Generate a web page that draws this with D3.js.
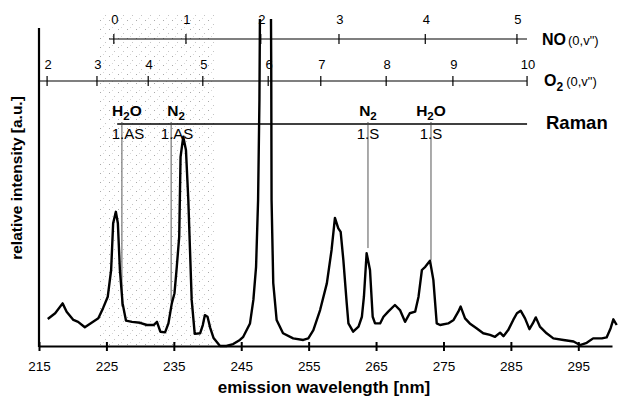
<!DOCTYPE html>
<html>
<head>
<meta charset="utf-8">
<script src="https://cdn.jsdelivr.net/npm/d3@7"></script>
<style>
  body { margin: 0; background: #fff; }
  svg { display: block; font-family: "Liberation Sans", Arial, sans-serif; }
</style>
</head>
<body>
<svg id="chart"></svg>
<script>
// spectrum (wavelength in nm, intensity in a.u.)
const wavelength = [216.3, 217.4, 218.5, 219.1, 220.1, 220.8, 221.8, 222.8, 223.8, 224.5,
  225.2, 225.7, 226.0, 226.4, 226.7, 227.0, 227.4, 227.9, 228.8, 230.0,
  231.0, 232.0, 232.5, 233.0, 233.7, 234.2, 234.7, 235.1, 235.4, 235.8,
  236.0, 236.4, 236.8, 237.15, 237.4, 237.65, 238.1, 238.9, 239.3, 239.6,
  240.0, 240.4, 240.9, 241.85, 242.8, 243.8, 244.8, 245.3, 246.3, 246.8,
  247.2, 247.5, 247.7, 247.85, 248.6, 249.35, 249.45, 249.5, 249.75, 250.25,
  251.2, 252.7, 254.2, 254.95, 255.7, 256.7, 257.7, 258.4, 258.9, 259.4,
  259.75, 260.15, 260.65, 260.9, 261.6, 262.4, 262.9, 263.2, 263.6, 264.1,
  264.5, 264.85, 265.6, 266.1, 266.8, 267.8, 268.55, 269.3, 270.0, 270.8,
  271.3, 271.8, 272.3, 273.0, 273.5, 274.0, 274.5, 275.7, 276.5, 277.2,
  277.55, 278.2, 278.9, 279.9, 280.9, 281.9, 282.65, 283.4, 283.9, 284.6,
  285.35, 285.9, 286.45, 287.1, 287.75, 288.25, 288.7, 289.3, 290.3, 291.3,
  292.8, 294.3, 295.25, 296.25, 297.2, 298.5, 299.2, 299.8, 300.2, 300.7];
const intensity = [8.5, 10.3, 13.4, 10.8, 8.2, 7.6, 5.9, 7.3, 8.7, 11.9,
  15.5, 23.9, 38.6, 42.2, 38.6, 23.9, 13.4, 8.0, 7.6, 7.3,
  6.6, 6.6, 7.6, 4.5, 4.3, 7.1, 13.4, 16.6, 23.9, 34.4,
  59.5, 65.8, 61.6, 45.9, 30.2, 14.5, 3.8, 4.0, 6.6, 9.7,
  9.2, 5.7, 2.5, 0, 0, 0.6, 1.9, 2.9, 7.1, 14.5,
  24.9, 45.9, 77.4, 130, 125, 130, 87.8, 45.9, 19.8, 8.2,
  4.0, 2.4, 1.9, 2.4, 5.0, 11.3, 19.7, 30.2, 40.3, 37.0,
  35.9, 27.0, 13.4, 7.1, 4.5, 6.1, 9.2, 15.5, 29.2, 23.9,
  9.2, 7.1, 7.1, 9.2, 10.8, 12.9, 11.3, 7.6, 10.3, 10.8,
  15.5, 23.9, 24.9, 26.8, 20.8, 7.1, 6.6, 7.1, 8.2, 10.8,
  12.4, 8.7, 7.1, 5.6, 4.0, 3.5, 2.9, 4.2, 3.1, 5.0,
  8.2, 10.3, 11.1, 8.7, 5.3, 7.1, 9.0, 6.1, 4.0, 2.4,
  1.9, 1.4, 0.3, 1.0, 2.4, 2.4, 2.7, 5.6, 8.4, 6.6];

const xTicks = [215, 225, 235, 245, 255, 265, 275, 285, 295];

// NO (0,v") band positions
const noBands = [226.1, 236.8, 247.9, 259.5, 272.3, 285.9];
const noLabels = ['0', '1', '2', '3', '4', '5'];
const noRange = [225.4, 287.4];

// O2 (0,v") band positions
const o2Bands = [216.2, 223.6, 231.2, 239.3, 249.0, 256.8, 266.5, 276.4, 287.4];
const o2Labels = ['2', '3', '4', '5', '6', '7', '8', '9', '10'];
const o2Range = [215, 287.4];

// Raman lines
const ramanPos = [227.3, 234.6, 263.8, 273.15];
const ramanSpecies = ['H2O', 'N2', 'N2', 'H2O'];
const ramanOrder = ['1.AS', '1.AS', '1.S', '1.S'];
const ramanFoot = [12.5, 14, 30.8, 27];
const ramanRange = [226.6, 287.4];

const shadeRange = [224, 241.1];

const W = 621, H = 400;
const svg = d3.select('#chart').attr('width', W).attr('height', H);

const x = d3.scaleLinear().domain([215, 300]).range([39, 612]);
const y = d3.scaleLinear().domain([0, 100]).range([346, 28]);

// stippled band
const defs = svg.append('defs');
const pat = defs.append('pattern')
  .attr('id', 'stipple')
  .attr('patternUnits', 'userSpaceOnUse')
  .attr('width', 9).attr('height', 9);
pat.append('rect').attr('x', 1).attr('y', 2).attr('width', 1).attr('height', 1).attr('fill', '#aaa');
pat.append('rect').attr('x', 6).attr('y', 6).attr('width', 1).attr('height', 1).attr('fill', '#c4c4c4');
pat.append('rect').attr('x', 4).attr('y', 0).attr('width', 1).attr('height', 1).attr('fill', '#d8d8d8');

svg.append('rect')
  .attr('x', x(shadeRange[0]))
  .attr('y', 14)
  .attr('width', x(shadeRange[1]) - x(shadeRange[0]))
  .attr('height', 346 - 14)
  .attr('fill', 'url(#stipple)');

defs.append('clipPath').attr('id', 'plotClip')
  .append('rect').attr('x', 30).attr('y', 19).attr('width', W - 30).attr('height', 330);

// top scales
function bandScale(bands, labels, range, yLine, yLabel) {
  const g = svg.append('g');
  g.append('line')
    .attr('x1', x(range[0])).attr('x2', x(range[1]))
    .attr('y1', yLine).attr('y2', yLine)
    .attr('stroke', '#000').attr('stroke-width', 1.2);
  g.selectAll('.tk').data(bands).enter().append('line')
    .attr('x1', d => x(d)).attr('x2', d => x(d))
    .attr('y1', yLine - 5).attr('y2', yLine + 5)
    .attr('stroke', '#000').attr('stroke-width', 1.2);
  g.selectAll('.lb').data(bands).enter().append('text')
    .attr('x', d => x(d) + 1)
    .attr('y', yLabel)
    .attr('text-anchor', 'middle')
    .attr('font-size', 13)
    .text((d, i) => labels[i]);
}
bandScale(noBands, noLabels, noRange, 39, 24);
bandScale(o2Bands, o2Labels, o2Range, 81, 69);

// Raman line and markers
svg.append('line')
  .attr('x1', x(ramanRange[0])).attr('x2', x(ramanRange[1]))
  .attr('y1', 124).attr('y2', 124)
  .attr('stroke', '#000').attr('stroke-width', 1.3);

svg.selectAll('.raman-tick').data(ramanPos).enter().append('line')
  .attr('x1', d => x(d)).attr('x2', d => x(d))
  .attr('y1', 122)
  .attr('y2', (d, i) => y(ramanFoot[i]))
  .attr('stroke', '#444').attr('stroke-width', 0.9);

const species = svg.selectAll('.species').data(ramanPos).enter().append('text')
  .attr('x', (d, i) => x(d) + (i < 2 ? 5 : 0))
  .attr('y', 116)
  .attr('text-anchor', 'middle')
  .attr('font-size', 15.5)
  .attr('font-weight', 'bold');
species.each(function(d, i) {
  const t = d3.select(this);
  const s = ramanSpecies[i];
  t.append('tspan').text(s[0]);
  t.append('tspan').attr('dy', 4).attr('font-size', 11.5).text(s[1]);
  if (s.length > 2) t.append('tspan').attr('dy', -4).text(s.slice(2));
});

svg.selectAll('.order').data(ramanPos).enter().append('text')
  .attr('x', (d, i) => x(d) + (i < 2 ? 6 : 0))
  .attr('y', 139)
  .attr('text-anchor', 'middle')
  .attr('font-size', 15)
  .text((d, i) => ramanOrder[i]);

// right side labels
const noT = svg.append('text').attr('x', 542).attr('y', 45);
noT.append('tspan').attr('font-size', 16).attr('font-weight', 'bold').text('NO');
noT.append('tspan').attr('font-size', 13).attr('dx', 2).text('(0,v")');

const o2T = svg.append('text').attr('x', 544).attr('y', 86);
o2T.append('tspan').attr('font-size', 16).attr('font-weight', 'bold').text('O');
o2T.append('tspan').attr('font-size', 12).attr('font-weight', 'bold').attr('dy', 5).text('2');
o2T.append('tspan').attr('font-size', 13).attr('dy', -5).attr('dx', 3).text('(0,v")');

svg.append('text')
  .attr('x', 546).attr('y', 129)
  .attr('font-size', 18.5).attr('font-weight', 'bold')
  .text('Raman');

// spectrum
const line = d3.line()
  .x(i => x(wavelength[i]))
  .y(i => y(intensity[i]));

svg.append('path')
  .datum(d3.range(wavelength.length))
  .attr('clip-path', 'url(#plotClip)')
  .attr('d', line)
  .attr('fill', 'none')
  .attr('stroke', '#000')
  .attr('stroke-width', 2.4)
  .attr('stroke-linejoin', 'round');

// axes
svg.append('line')
  .attr('x1', 39).attr('x2', 39)
  .attr('y1', 28).attr('y2', 347)
  .attr('stroke', '#000').attr('stroke-width', 2.2);

const xAxis = d3.axisBottom(x).tickValues(xTicks).tickSize(0).tickPadding(0);
const gx = svg.append('g').attr('transform', 'translate(0,346)').call(xAxis);
gx.select('.domain').attr('stroke', '#000').attr('stroke-width', 2.2);
gx.selectAll('.tick text')
  .attr('y', 25)
  .attr('dy', 0)
  .attr('font-size', 13.5)
  .attr('font-family', '"Liberation Sans", Arial, sans-serif')
  .attr('fill', '#000');
gx.selectAll('.tick').append('line')
  .attr('y1', -4).attr('y2', 5)
  .attr('stroke', '#000').attr('stroke-width', 2);

svg.append('text')
  .attr('x', 324).attr('y', 393)
  .attr('text-anchor', 'middle')
  .attr('font-size', 17).attr('font-weight', 'bold')
  .text('emission wavelength [nm]');

svg.append('text')
  .attr('transform', 'translate(22,178) rotate(-90)')
  .attr('text-anchor', 'middle')
  .attr('font-size', 15.5).attr('font-weight', 'bold')
  .text('relative intensity [a.u.]');
</script>
</body>
</html>
